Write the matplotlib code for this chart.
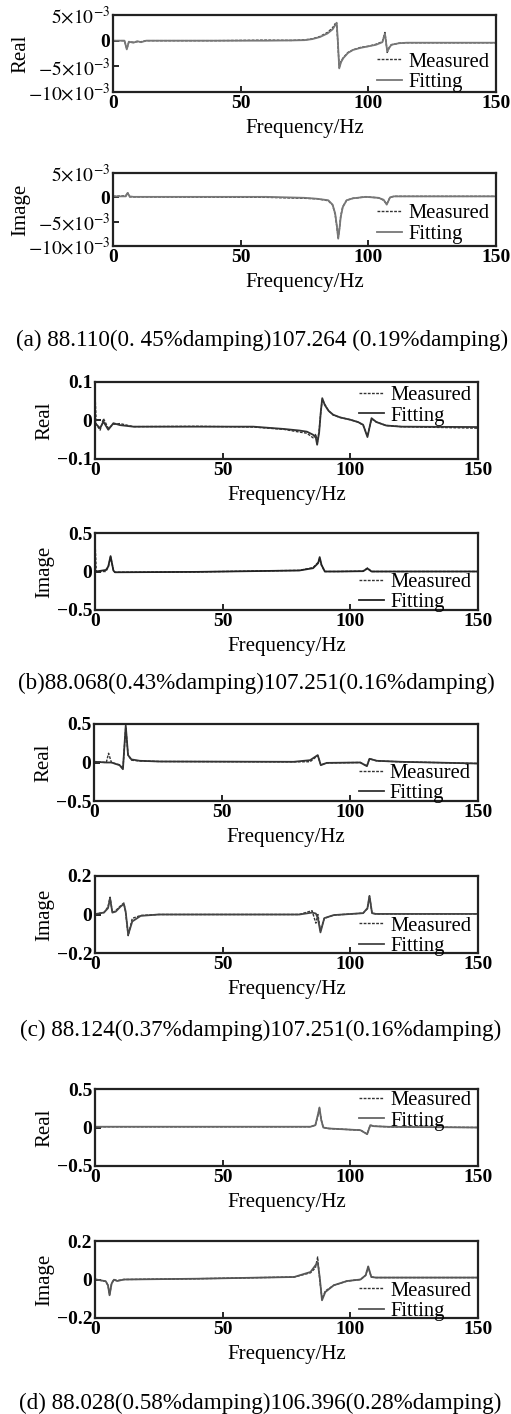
import matplotlib
matplotlib.use("Agg")
import matplotlib.pyplot as plt

plt.rcParams["font.family"] = ["Liberation Serif", "DejaVu Serif"]
plt.rcParams["mathtext.fontset"] = "stix"

# (a) valores en unidades de 1e-3
a_re_f = [0, 4.5, 5.4, 6.2, 8, 9.5, 11, 13, 40, 60, 70, 75, 78, 81, 84, 86, 87, 87.6, 88.0, 88.6,
          89.3, 90.2, 92, 94, 97, 100, 103, 105.5, 106.5, 107.4, 108.2, 109, 112, 115, 130, 150]
a_re_fit = [0, 0, -1.7, -0.2, -0.4, -0.1, -0.3, 0, 0, 0, 0.05, 0.1, 0.3, 0.7, 1.4, 2.2, 3.0, 3.5, 0.5, -5.4,
            -4.2, -3.4, -2.4, -1.8, -1.4, -1.1, -0.8, -0.3, 1.4, -2.1, -1.4, -0.8, -0.5, -0.4, -0.4, -0.4]
a_re_mea = [0, 0, -1.6, -0.3, -0.3, -0.2, -0.2, 0, 0, 0.1, 0.05, 0.15, 0.35, 0.8, 1.6, 2.5, 3.3, 3.2, 0.0, -5.2,
            -4.0, -3.3, -2.3, -1.8, -1.3, -1.1, -0.7, -0.2, 1.6, -2.3, -1.3, -0.8, -0.5, -0.4, -0.4, -0.4]

a_im_f = [0, 5, 5.7, 6.5, 8, 60, 75, 80, 84.3, 86, 87, 87.7, 88.2, 88.7, 89.2, 90, 91.5, 94,
          99, 104, 106, 107.2, 108.5, 110, 150]
a_im_fit = [0.2, 0.2, 0.9, 0.2, 0.1, 0.1, -0.1, -0.3, -0.6, -1.5, -3.3, -6.0, -8.5, -6.5, -4.0, -2.0, -0.6, -0.2,
            0.1, -0.1, -0.5, -1.5, 0.0, 0.2, 0.2]
a_im_mea = [0.2, 0.3, 1.0, 0.1, 0.1, 0.0, -0.2, -0.3, -0.7, -1.6, -3.5, -6.2, -8.3, -6.3, -3.8, -1.9, -0.6, -0.2,
            0.1, -0.1, -0.6, -1.4, 0.0, 0.2, 0.2]

# (b)
b_re_f = [0, 0.5, 2, 3.3, 5.2, 7.2, 9.8, 15, 40, 62, 74, 80, 83, 85.4, 86.5, 87.0, 87.8, 88.4, 89.0, 90,
          91.5, 93.3, 96, 100, 103, 105, 106.7, 108.3, 110.2, 114, 120, 150]
b_re_fit = [-0.01, -0.01, -0.02, -0.003, -0.024, -0.007, -0.012, -0.016, -0.016, -0.016, -0.022, -0.026, -0.029,
            -0.037, -0.045, -0.063, -0.03, 0.02, 0.058, 0.04, 0.025, 0.015, 0.008, 0.002, -0.004, -0.011, -0.043,
            0.006, -0.004, -0.013, -0.016, -0.017]
b_re_mea = [0.07, -0.01, -0.025, 0.005, -0.02, -0.01, -0.008, -0.016, -0.015, -0.017, -0.023, -0.03, -0.033,
            -0.045, -0.035, -0.06, -0.025, 0.02, 0.055, 0.042, 0.025, 0.014, 0.008, 0.002, -0.004, -0.012, -0.04,
            0.004, -0.004, -0.013, -0.016, -0.02]

b_im_f = [0, 0.5, 4.3, 5.2, 6.1, 7.2, 7.8, 40, 80, 85.4, 87.4, 88.0, 88.7, 90, 95, 105, 106.7, 108.3, 150]
b_im_fit = [0, 0, 0.02, 0.065, 0.2, 0.013, -0.01, -0.005, 0.013, 0.043, 0.109, 0.187, 0.087, 0.0, 0.0, 0.004,
            0.039, 0.0, 0.0]
b_im_mea = [0.4, 0.0, 0.0, 0.06, 0.19, 0.02, -0.01, -0.005, 0.015, 0.05, 0.12, 0.17, 0.08, 0.0, 0.0, 0.004,
            0.045, 0.0, 0.0]

# (c)
c_re_f = [0, 4.8, 5.7, 6.8, 10, 11.3, 12.4, 13.3, 14.6, 17.9, 25.7, 78, 84.4, 87.4, 88.6, 90.9, 104,
          106.6, 107.6, 110.5, 120, 150]
c_re_fit = [0.01, 0.0, 0.0, 0.0, -0.035, -0.087, 0.48, 0.096, 0.04, 0.022, 0.013, 0.009, 0.03, 0.096, -0.035,
            -0.005, 0.0, -0.048, 0.048, 0.022, 0.009, -0.013]
c_re_mea = [0.01, 0.0, 0.12, 0.0, -0.03, -0.08, 0.46, 0.1, 0.03, 0.02, 0.013, 0.009, 0.01, 0.09, -0.03,
            -0.005, 0.0, -0.045, 0.05, 0.02, 0.009, -0.013]

c_im_f = [0, 3.5, 5.1, 5.9, 6.8, 8.1, 10, 11.3, 12, 13, 14.6, 17.9, 25, 80, 85, 86.5, 87.3, 88.3, 89.8,
          93.5, 105, 106.7, 107.5, 108.5, 110, 150]
c_im_fit = [0.002, 0.01, 0.033, 0.085, 0.01, 0.015, 0.041, 0.055, 0.016, -0.105, -0.036, -0.007, 0.0, 0.0,
            0.01, 0.005, -0.02, -0.093, -0.019, -0.003, 0.007, 0.033, 0.097, 0.007, 0.003, 0.003]
c_im_mea = [0.002, 0.01, 0.04, 0.09, 0.01, 0.02, 0.045, 0.06, 0.01, -0.11, -0.02, -0.005, 0.0, 0.0,
            0.02, -0.045, 0.0, -0.085, -0.02, -0.003, 0.007, 0.03, 0.095, 0.007, 0.003, 0.003]

# (d)
d_re_f = [0, 84.4, 86.3, 87.4, 87.9, 88.6, 89.4, 91.6, 104, 106.6, 107.8, 109.2, 115, 150]
d_re_fit = [0.01, 0.01, 0.03, 0.18, 0.26, 0.1, 0.0, -0.013, -0.035, -0.087, 0.03, 0.017, 0.009, 0.0]
d_re_mea = [0.01, 0.01, 0.03, 0.17, 0.25, 0.1, 0.0, -0.013, -0.035, -0.085, 0.03, 0.017, 0.009, 0.0]

d_im_f = [0, 4.2, 5.1, 5.7, 6.5, 7.4, 8.7, 11.3, 40, 78, 84.4, 86.3, 87.2, 88, 88.9, 90.2, 93.5, 98.7,
          104, 106, 107, 108.2, 110, 150]
d_im_fit = [0.001, -0.009, -0.031, -0.082, -0.022, -0.001, -0.008, 0.0, 0.004, 0.013, 0.039, 0.073, 0.09,
            0.013, -0.108, -0.065, -0.03, -0.008, 0.0, 0.022, 0.068, 0.013, 0.01, 0.01]
d_im_mea = [0.001, -0.01, -0.03, -0.08, -0.02, 0.0, -0.006, 0.0, 0.004, 0.013, 0.035, 0.06, 0.117,
            0.0, -0.1, -0.06, -0.03, -0.008, 0.0, 0.022, 0.065, 0.013, 0.01, 0.01]

xticks = [0, 50, 100, 150]
ylim_a = (-10, 5)
yticks_a = [-10, -5, 0, 5]
yticklabels_a = [r"$-10{\times}10^{-3}$", r"$-5{\times}10^{-3}$", "0", r"$5{\times}10^{-3}$"]

captions = [
    "(a) 88.110(0. 45%damping)107.264 (0.19%damping)",
    "(b)88.068(0.43%damping)107.251(0.16%damping)",
    "(c) 88.124(0.37%damping)107.251(0.16%damping)",
    "(d) 88.028(0.58%damping)106.396(0.28%damping)",
]

W, H = 511, 1414
fig = plt.figure(figsize=(W / 100, H / 100), dpi=100)


def panel(box, f, fit, mea, ylabel, ylim, yticks, yticklabels, color, leg_y, ypad=2):
    left, top, right, bottom = box
    ax = fig.add_axes([left / W, 1 - bottom / H, (right - left) / W, (bottom - top) / H])
    ax.plot(f, mea, color="#333333", lw=1.0, ls=(0, (2, 1)), label="Measured")
    ax.plot(f, fit, color=color, lw=1.3, label="Fitting")
    ax.set_xlim(0, 150)
    ax.set_ylim(*ylim)
    ax.set_xticks(xticks)
    ax.set_xticklabels([str(t) for t in xticks], fontweight="bold")
    ax.set_yticks(yticks)
    ax.set_yticklabels(yticklabels, fontweight="bold")
    ax.tick_params(direction="in", length=4, width=1.2, labelsize=14, pad=2)
    for s in ax.spines.values():
        s.set_linewidth(1.6)
        s.set_color("#222222")
    ax.set_xlabel("Frequency/Hz", fontsize=15, labelpad=5)
    ax.set_ylabel(ylabel, fontsize=15, labelpad=ypad)
    ax.legend(loc="lower left", bbox_to_anchor=(0.69, leg_y), frameon=False, fontsize=14.8,
              handlelength=1.2, handletextpad=0.3, borderpad=0, borderaxespad=0, labelspacing=0.05)
    return ax


panel((113, 15, 496, 92), a_re_f, a_re_fit, a_re_mea, "Real", ylim_a, yticks_a, yticklabels_a, "#777777",
      0.0, ypad=-2)
panel((113, 173, 496, 246), a_im_f, a_im_fit, a_im_mea, "Image", ylim_a, yticks_a, yticklabels_a, "#777777",
      0.03, ypad=-2)
panel((95, 382, 478, 459), b_re_f, b_re_fit, b_re_mea, "Real", (-0.1, 0.1), [-0.1, 0, 0.1],
      ["\u22120.1", "0", "0.1"], "#333333", 0.435)
panel((95, 533, 478, 610), b_im_f, b_im_fit, b_im_mea, "Image", (-0.5, 0.5), [-0.5, 0, 0.5],
      ["\u22120.5", "0", "0.5"], "#222222", -0.03)
panel((94, 724, 478, 801), c_re_f, c_re_fit, c_re_mea, "Real", (-0.5, 0.5), [-0.5, 0, 0.5],
      ["\u22120.5", "0", "0.5"], "#333333", -0.03)
panel((95, 876, 478, 953), c_im_f, c_im_fit, c_im_mea, "Image", (-0.2, 0.2), [-0.2, 0, 0.2],
      ["\u22120.2", "0", "0.2"], "#444444", -0.04)
panel((95, 1089, 478, 1166), d_re_f, d_re_fit, d_re_mea, "Real", (-0.5, 0.5), [-0.5, 0, 0.5],
      ["\u22120.5", "0", "0.5"], "#666666", 0.46)
panel((95, 1241, 478, 1318), d_im_f, d_im_fit, d_im_mea, "Image", (-0.2, 0.2), [-0.2, 0, 0.2],
      ["\u22120.2", "0", "0.2"], "#555555", -0.04)

for cap, y, x in zip(captions, [340, 683, 1030, 1403], [262, 256, 261, 260]):
    fig.text(x / W, 1 - y / H, cap, ha="center", va="center", fontsize=16.7)

fig.savefig("out.png", dpi=100)
